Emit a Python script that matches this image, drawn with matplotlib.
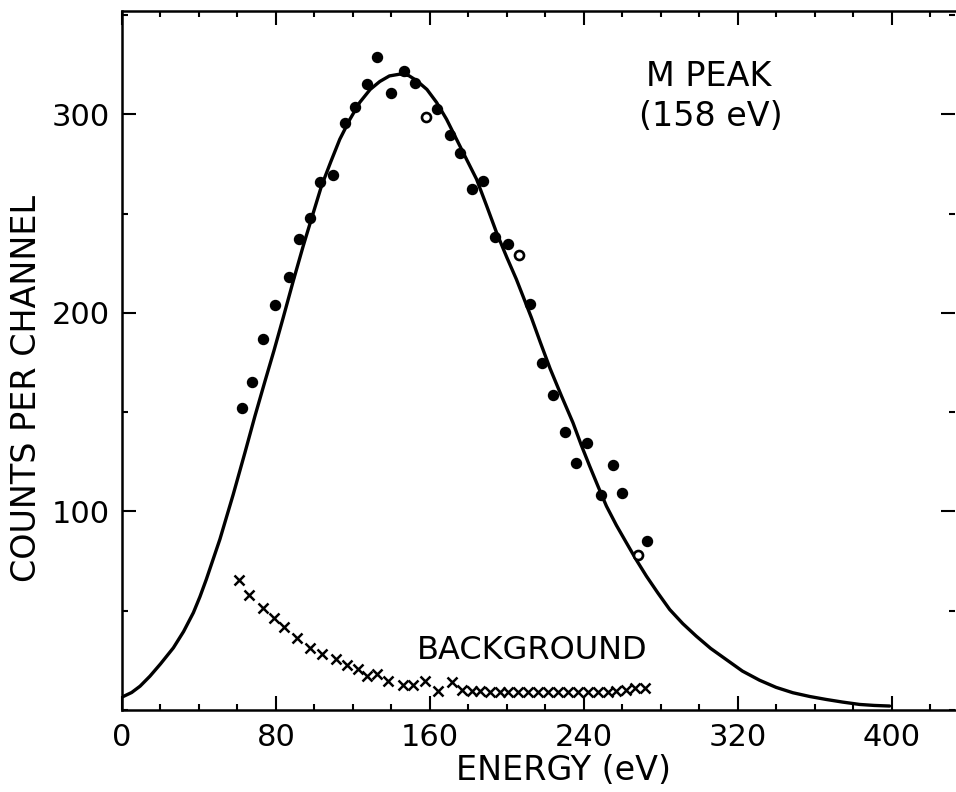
import matplotlib
matplotlib.use("Agg")
import matplotlib.pyplot as plt
from matplotlib.ticker import MultipleLocator

plt.rcParams['font.family'] = ['DejaVu Sans']

# ---- data ----
peak_x = [62.2, 67.4, 73.4, 79.5, 86.9, 92.1, 97.7, 102.9, 109.8, 115.8, 121.0,
          127.1, 132.6, 139.6, 146.7, 152.2, 163.8, 170.4, 175.9, 181.7,
          187.7, 193.8, 200.7, 212.0, 218.3, 224.1, 230.1, 236.2, 241.7, 249.2,
          255.2, 259.9, 273.1]
peak_y = [152.2, 165.3, 187.0, 203.8, 218.2, 237.0, 248.0, 266.1, 269.4, 295.8, 303.9,
          315.1, 328.9, 310.9, 321.7, 315.5, 302.9, 289.4, 280.7, 262.2,
          266.4, 238.4, 234.5, 204.3, 174.9, 158.6, 140.0, 124.5, 134.3, 108.2,
          123.5, 109.4, 85.0]

open_x = [157.9, 206.4, 268.2]
open_y = [298.8, 229.0, 78.3]

bg_x = [61.0, 66.2, 73.1, 79.0, 84.2, 90.8, 97.7, 104.1, 111.2, 117.2, 122.8,
        127.1, 132.8, 138.4, 146.2, 151.4, 157.4, 164.3, 171.3, 176.5, 181.7,
        186.0, 191.2, 196.4, 200.7, 205.9, 211.1, 216.3, 221.5, 226.6, 231.8,
        237.0, 242.2, 247.4, 252.6, 256.9, 262.1, 266.5, 271.7]
bg_y = [65.7, 57.7, 51.5, 46.1, 41.7, 36.4, 31.3, 28.0, 25.8, 22.9, 20.8,
        17.0, 17.9, 14.5, 12.5, 12.8, 14.5, 9.5, 14.0, 10.3, 9.5,
        9.5, 9.2, 9.0, 9.3, 9.0, 9.2, 9.0, 9.3, 9.0, 9.2,
        9.0, 9.3, 9.0, 9.2, 9.5, 10.0, 11.0, 11.0]

fit_x = [0.0, 5.0, 9.4, 14.5, 20.0, 26.7, 32.0, 37.1, 40.5, 43.8, 50.9, 57.8,
         63.9, 69.1, 74.3, 79.0, 83.8, 89.0, 94.2, 99.0, 103.7, 108.5, 113.2,
         118.5, 123.6, 129.0, 134.0, 139.0, 144.4, 149.0, 153.1, 158.5, 163.5,
         168.7, 173.9, 179.0, 184.3, 189.5, 194.7, 200.0, 205.0, 212.8, 217.5,
         222.5, 228.5, 234.4, 238.7, 243.1, 247.5, 251.8, 257.0, 262.2, 267.4,
         272.6, 278.5, 284.7, 291.5, 298.5, 306.0, 314.1, 322.5, 331.4, 340.0,
         348.7, 357.5, 366.1, 374.5, 383.4, 391.0, 399.0]
fit_y = [6.5, 8.8, 12.0, 17.0, 23.2, 31.3, 39.5, 49.0, 57.0, 65.7, 86.0, 108.5,
         129.6, 148.0, 165.5, 181.0, 197.6, 216.0, 233.7, 249.0, 263.9, 276.0, 287.4,
         297.5, 306.0, 312.5, 316.5, 319.3, 320.2, 319.5, 317.0, 312.5, 306.0,
         297.5, 287.4, 277.5, 267.3, 254.0, 240.4, 228.0, 216.9, 197.6, 185.0,
         172.0, 158.0, 144.7, 133.5, 122.8, 112.5, 102.7, 93.0, 84.2, 75.5,
         67.4, 59.0, 50.6, 43.5, 37.2, 31.0, 25.4, 19.6, 15.0, 11.4,
         8.7, 6.8, 5.3, 4.0, 2.8, 2.3, 2.0]

x_ticks = [0, 80, 160, 240, 320, 400]
y_ticks = [100, 200, 300]

# ---- figure ----
fig = plt.figure(figsize=(9.56, 7.92), dpi=100)
ax = fig.add_axes([122 / 956, 82 / 792, 833 / 956, 699 / 792])

ax.plot(fit_x, fit_y, color='black', lw=2.4, solid_capstyle='round',
        solid_joinstyle='round', zorder=2)
ax.plot(peak_x, peak_y, 'o', color='black', ms=7.2, zorder=3)
ax.plot(open_x, open_y, 'o', mfc='white', mec='black', ms=6.5, mew=1.9, zorder=3)
ax.plot(bg_x, bg_y, 'x', color='black', ms=6.5, mew=1.8, zorder=3)

ax.set_xlim(0, 433)
ax.set_ylim(0, 352)

ax.set_xticks(x_ticks)
ax.set_yticks(y_ticks)
ax.xaxis.set_minor_locator(MultipleLocator(20))
ax.yaxis.set_minor_locator(MultipleLocator(50))
ax.tick_params(which='both', direction='in', top=True, right=True,
               width=1.5, colors='black')
ax.tick_params(which='major', length=10, labelsize=22, pad=9)
ax.tick_params(which='minor', length=4)

for side in ['left', 'bottom', 'top']:
    ax.spines[side].set_linewidth(1.8)
ax.spines['right'].set_visible(False)

ax.text(305, 319, 'M PEAK', fontsize=24, ha='center', va='center')
ax.text(306, 299, '(158 eV)', fontsize=24, ha='center', va='center')
ax.text(213, 30, 'BACKGROUND', fontsize=23, ha='center', va='center')

fig.text(564 / 956, 1 - 771 / 792, 'ENERGY (eV)', fontsize=24,
         ha='center', va='center')
fig.text(27 / 956, 1 - 389 / 792, 'COUNTS PER CHANNEL', fontsize=24,
         rotation=90, ha='center', va='center')

fig.savefig('out.png', dpi=100)
